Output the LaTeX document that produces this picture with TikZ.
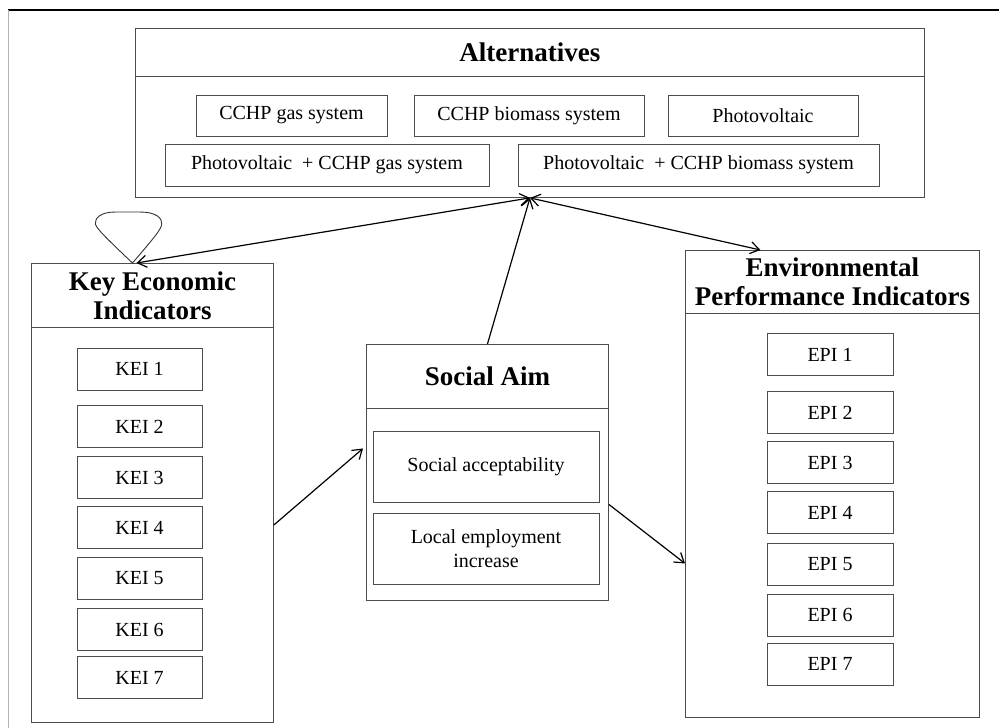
\documentclass[tikz,border=0pt]{standalone}
\usepackage{fontspec}
\setmainfont{Liberation Serif}
\usetikzlibrary{arrows.meta, positioning}

\tikzset{
  head/.style={draw=black!70, line width=0.9pt, anchor=north west, inner sep=0pt,
    font=\fontsize{27}{29}\selectfont\bfseries, align=center},
  body/.style={draw=black!70, line width=0.9pt, anchor=north west, inner sep=0pt},
  item/.style={draw=black!70, line width=0.8pt, inner sep=0pt,
    font=\fontsize{20}{24}\selectfont, align=center},
  link/.style={line width=1.2pt, ->}
}

\begin{document}
\begin{tikzpicture}[x=1pt, y=-1pt, >={Straight Barb[length=9pt,width=12pt]}]
        \useasboundingbox (0,0) rectangle (999,728);
        % Frame
        \draw[line width=1.3pt] (8,10) -- (999,10);
        \draw[black!30, line width=1pt] (8,10) -- (8,728);

        % Alternatives
        \node[head, minimum width=789, minimum height=48] (althead) at (135,28) {Alternatives};
        \node[body, minimum width=789, minimum height=121] (altbody) at (135,76) {};
        \node[item, minimum width=191, minimum height=41] (gas) at (291.5,115.5) {CCHP gas system};
        \node[item, minimum width=230, minimum height=41] (bio) at (529,116) {CCHP biomass system};
        \node[item, minimum width=190, minimum height=41] (pv) at (763,115.5) {Photovoltaic};
        \node[item, minimum width=324, minimum height=42] (pvgas) at (327,165) {Photovoltaic\ \ + CCHP gas system};
        \node[item, minimum width=361, minimum height=42] (pvbio) at (698.5,165) {Photovoltaic\ \ + CCHP biomass system};

        % Key Economic Indicators
        \node[head, minimum width=242, minimum height=64] (keihead) at (31,263) {Key Economic\\Indicators};
        \node[body, minimum width=242, minimum height=395] (keibody) at (31,327) {};
        \foreach \y [count=\i] in {369,426.5,477.5,527.5,578.5,629.5,677.5}
            \node[item, minimum width=125, minimum height=42] (kei\i) at (139.5,\y) {KEI \i};

        % Social Aim
        \node[head, minimum width=242, minimum height=64] (sochead) at (366,344) {Social Aim};
        \node[body, minimum width=242, minimum height=192] (socbody) at (366,408) {};
        \node[item, minimum width=226, minimum height=71] (accept) at (486,466.5) {Social acceptability};
        \node[item, minimum width=226, minimum height=71] (employ) at (486,548.5) {Local employment\\increase};

        % Environmental Performance Indicators
        \node[head, minimum width=294, minimum height=63] (epihead) at (685,250) {Environmental\\Performance Indicators};
        \node[body, minimum width=294, minimum height=404] (epibody) at (685,313) {};
        \foreach \y [count=\i] in {354.5,412.5,462.5,512.5,564,615,664}
            \node[item, minimum width=126, minimum height=42] (epi\i) at (830,\y) {EPI \i};

        % Links
        \coordinate (loopend) at ([xshift=-20pt]keihead.north);
        \draw[black!80, line width=0.9pt] plot[smooth, tension=0.6] coordinates
            {(loopend) (100,231) (96,220) (106,213) (127,212) (150,213) (161,220) (158,232) (loopend)};
        \draw[link, <->] ([xshift=-16pt]keihead.north) -- (altbody.south);
        \draw[link] (sochead.north) -- (altbody.south);
        \draw[link, <->] (altbody.south) -- ([xshift=-72pt]epihead.north);
        \draw[link] (keibody.east) -- ([xshift=-3pt, yshift=56pt]socbody.west);
        \draw[link] (socbody.east) -- ([yshift=-48pt]epibody.west);
    \end{tikzpicture}
\end{document}
